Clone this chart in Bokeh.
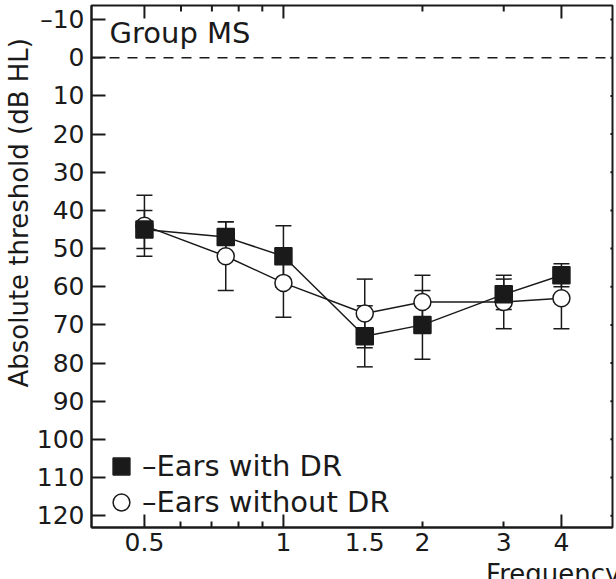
from bokeh.plotting import figure
from bokeh.models import (Range1d, FixedTicker, LinearAxis, LogAxis, Whisker, TeeHead,
                          ColumnDataSource, Legend, LegendItem, Label, Span)
from bokeh.embed import file_html
from bokeh.resources import INLINE

# ---- data ----
freq = [0.5, 0.75, 1, 1.5, 2, 3, 4]
with_dr = [45, 47, 52, 73, 70, 62, 57]
with_dr_err = [5, 4, 8, 8, 9, 4, 3]
without_dr = [44, 52, 59, 67, 64, 64, 63]
without_dr_err = [8, 9, 9, 9, 7, 7, 8]

x_labels = [0.5, 1, 1.5, 2, 3, 4]
x_long_ticks = [0.5, 1, 4]
x_short_ticks = [0.6, 0.7, 0.8, 0.9, 2, 3]
y_ticks = list(range(-10, 121, 10))

series_labels = ["\u2013Ears with DR", "\u2013Ears without DR"]
group_title = "Group MS"
y_title = "Absolute threshold (dB HL)"
x_title = "Frequency (kHz)"

FONT = "DejaVu Sans"
INK = "#1a1a1a"
FW, FH = 521, 522
NB = "\u00a0"

p = figure(frame_width=FW, frame_height=FH, x_axis_type="log",
           x_range=Range1d(0.384, 5.16), y_range=Range1d(123.1, -13.7),
           min_border_left=90, min_border_right=5, min_border_top=5, min_border_bottom=52,
           output_backend="svg", toolbar_location=None,
           x_axis_location=None, y_axis_location=None)
p.xgrid.visible = False
p.ygrid.visible = False
p.outline_line_color = INK
p.outline_line_width = 2
p.background_fill_color = "white"
p.border_fill_color = "white"

def style_axis(ax):
    ax.axis_line_color = INK
    ax.axis_line_width = 2
    ax.major_tick_line_color = INK
    ax.major_tick_line_width = 2
    ax.minor_tick_line_color = INK
    ax.minor_tick_line_width = 2
    ax.major_tick_out = 0
    ax.minor_tick_out = 0
    ax.major_label_text_font = FONT
    ax.major_label_text_color = INK
    ax.major_label_text_font_size = "25px"
    ax.axis_label_text_font = FONT
    ax.axis_label_text_font_size = "26px"
    ax.axis_label_text_font_style = "normal"
    ax.axis_label_text_color = INK
    ax.axis_label_standoff = 0

# bottom axis: labels + short ticks
xb = LogAxis(ticker=FixedTicker(ticks=x_labels, minor_ticks=x_short_ticks))
style_axis(xb)
xb.major_tick_in = 0
xb.minor_tick_in = 6
xb.major_label_standoff = 5
xb.major_label_overrides = {v: f"{v:g}" for v in x_labels}
xb.axis_label = NB * 58 + x_title
xb.axis_label_standoff = 5
p.add_layout(xb, "below")

# left axis
yl = LinearAxis(ticker=FixedTicker(ticks=y_ticks, minor_ticks=[]))
style_axis(yl)
yl.major_tick_in = 14
yl.major_label_standoff = 7
yl.major_label_overrides = {v: str(v).replace("-", "\u2013") for v in y_ticks}
yl.axis_label = NB * 13 + y_title
p.add_layout(yl, "left")

# pixel-space ranges for the frame's other tick marks
p.extra_y_ranges = {"px": Range1d(0, FH)}
p.extra_x_ranges = {"pxx": Range1d(0, FW)}
n_long, n_short, n_y = len(x_long_ticks), len(x_short_ticks), len(y_ticks)
# bottom long ticks
p.segment(x0=x_long_ticks, x1=x_long_ticks, y0=[0] * n_long, y1=[13] * n_long,
          y_range_name="px", line_color=INK, line_width=2)
# top ticks
p.segment(x0=x_long_ticks, x1=x_long_ticks, y0=[FH] * n_long, y1=[FH - 13] * n_long,
          y_range_name="px", line_color=INK, line_width=2)
p.segment(x0=x_short_ticks, x1=x_short_ticks, y0=[FH] * n_short, y1=[FH - 6] * n_short,
          y_range_name="px", line_color=INK, line_width=2)
# right ticks
p.segment(x0=[FW] * n_y, x1=[FW - 13] * n_y, y0=y_ticks, y1=y_ticks,
          x_range_name="pxx", line_color=INK, line_width=2)

# zero reference line
p.add_layout(Span(location=0, dimension="width", line_color=INK, line_width=1.5,
                  line_dash="10 8"))

# error bars
src_a = ColumnDataSource(dict(x=freq, y=with_dr,
                              lo=[v - e for v, e in zip(with_dr, with_dr_err)],
                              hi=[v + e for v, e in zip(with_dr, with_dr_err)]))
src_b = ColumnDataSource(dict(x=freq, y=without_dr,
                              lo=[v - e for v, e in zip(without_dr, without_dr_err)],
                              hi=[v + e for v, e in zip(without_dr, without_dr_err)]))
for src in (src_b, src_a):
    w = Whisker(source=src, base="x", lower="lo", upper="hi", dimension="height",
                line_color=INK, line_width=1.5,
                upper_head=TeeHead(size=16, line_color=INK, line_width=1.5),
                lower_head=TeeHead(size=16, line_color=INK, line_width=1.5))
    p.add_layout(w)

p.line("x", "y", source=src_a, line_color=INK, line_width=1.5)
p.line("x", "y", source=src_b, line_color=INK, line_width=1.5)
r_circ = p.scatter("x", "y", source=src_b, marker="circle", size=17,
                   fill_color="white", line_color=INK, line_width=1.5)
r_sq = p.scatter("x", "y", source=src_a, marker="square", size=17,
                 fill_color=INK, line_color=INK, line_width=1.5)

for label, rend, loc in ((series_labels[0], r_sq, (9, 40)),
                         (series_labels[1], r_circ, (9, 4))):
    lg = Legend(items=[LegendItem(label=label, renderers=[rend])],
                location=loc, glyph_width=42, glyph_height=42, spacing=0,
                padding=0, margin=0, label_standoff=0,
                border_line_color=None, background_fill_alpha=0,
                label_text_font=FONT, label_text_font_size="29px",
                label_text_color=INK)
    p.add_layout(lg)

p.add_layout(Label(x=18, y=FH - 27, x_units="screen", y_units="screen", text=group_title,
                   text_font=FONT, text_font_size="29px", text_color=INK,
                   text_baseline="alphabetic", text_align="left"))

open("out.html", "w").write(file_html(p, INLINE))
